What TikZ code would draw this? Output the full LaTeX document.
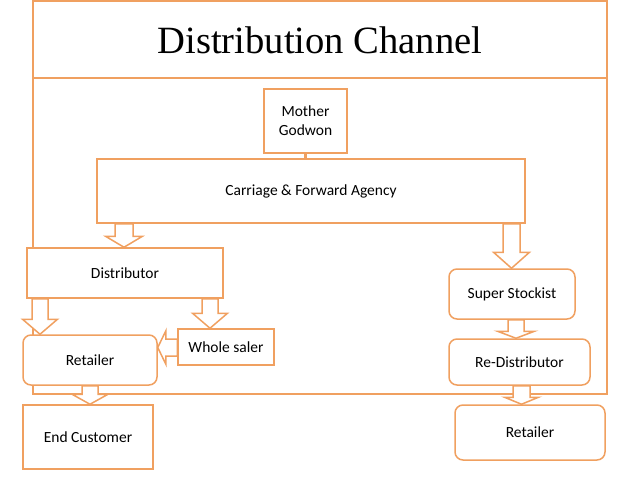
\documentclass[tikz,border=0pt]{standalone}
\usepackage{fontspec}
\setmainfont{Carlito}
\newfontfamily\titlefont{Liberation Serif}
\usetikzlibrary{calc}
\definecolor{oc}{RGB}{240,160,96}
% down block arrow: #1 x, #2 source anchor, #3 target anchor, #4 half shaft, #5 half head, #6 head length
\newcommand\blkdown[6]{%
  \draw[blk] let \p1=#2, \p2=#3, \p3=(#1,0) in
    (\x3-#4pt,\y1) -- (\x3+#4pt,\y1) -- (\x3+#4pt,\y2+#6pt) -- (\x3+#5pt,\y2+#6pt)
    -- (\x3,\y2) -- (\x3-#5pt,\y2+#6pt) -- (\x3-#4pt,\y2+#6pt) -- cycle;}
% left block arrow: #1 y, #2 source anchor, #3 target anchor, #4 half shaft, #5 half head, #6 head length
\newcommand\blkleft[6]{%
  \draw[blk] let \p1=#2, \p2=#3, \p3=(0,#1) in
    (\x1,\y3-#4pt) -- (\x1,\y3+#4pt) -- (\x2+#6pt,\y3+#4pt) -- (\x2+#6pt,\y3+#5pt)
    -- (\x2,\y3) -- (\x2+#6pt,\y3-#5pt) -- (\x2+#6pt,\y3-#4pt) -- cycle;}
\begin{document}
\begin{tikzpicture}[x=1pt,y=-1pt,
  box/.style={draw=oc,line width=1.5pt,fill=white,inner sep=0pt,align=center,
    font=\fontsize{15.5}{19}\selectfont},
  rbox/.style={box,rounded corners=8pt},
  blk/.style={draw=oc,line width=1.5pt,fill=white,line join=miter},
  frame/.style={draw=oc,line width=1.5pt}]
\useasboundingbox (0,0) rectangle (638,479);
\draw[frame] (33,1) rectangle (607,394);
\draw[frame] (33,78) -- (607,78);
\node[font=\titlefont\fontsize{38.6}{44}\selectfont,anchor=base,inner sep=0pt] (title) at (320,53) {Distribution Channel};

\node[box,minimum width=83pt,minimum height=64pt] (mg) at (305.5,121) {Mother\\Godwon};
\node[box,minimum width=428pt,minimum height=64pt] (carr) at (311,191) {Carriage \& Forward Agency};
\node[box,minimum width=196pt,minimum height=50pt] (dist) at (125,273) {Distributor};
\node[rbox,minimum width=126pt,minimum height=50pt] (ss) at (512,294) {Super Stockist};
\node[rbox,minimum width=141pt,minimum height=46pt] (rd) at (519.5,362) {Re-Distributor};
\node[rbox,minimum width=150pt,minimum height=55pt] (retR) at (530,432.5) {Retailer};
\node[box,minimum width=96pt,minimum height=36pt] (ws) at (226,347) {Whole saler};
\node[rbox,minimum width=134pt,minimum height=50pt] (retL) at (90,360) {Retailer};
\node[box,minimum width=130pt,minimum height=64pt] (end) at (88,437) {End Customer};

\draw[oc,line width=2.5pt] (mg.south) -- (carr.north -| mg.south);

\blkdown{124}{(carr.south)}{(dist.north)}{9}{18.5}{11}
\blkdown{511.5}{(carr.south)}{(ss.north)}{8.5}{18}{16}
\blkdown{516}{(ss.south)}{(rd.north)}{8}{18.5}{7}
\blkdown{521.5}{(rd.south)}{(retR.north)}{8.5}{17}{7}
\blkdown{40}{(dist.south)}{(retL.north)}{8}{17.5}{15}
\blkdown{210}{(dist.south)}{(ws.north)}{8}{17.5}{15}
\blkdown{90}{(retL.south)}{(end.north)}{8}{18}{10}
\blkleft{347.5}{(ws.west)}{(retL.east)}{8.5}{16.5}{8}
\end{tikzpicture}
\end{document}
